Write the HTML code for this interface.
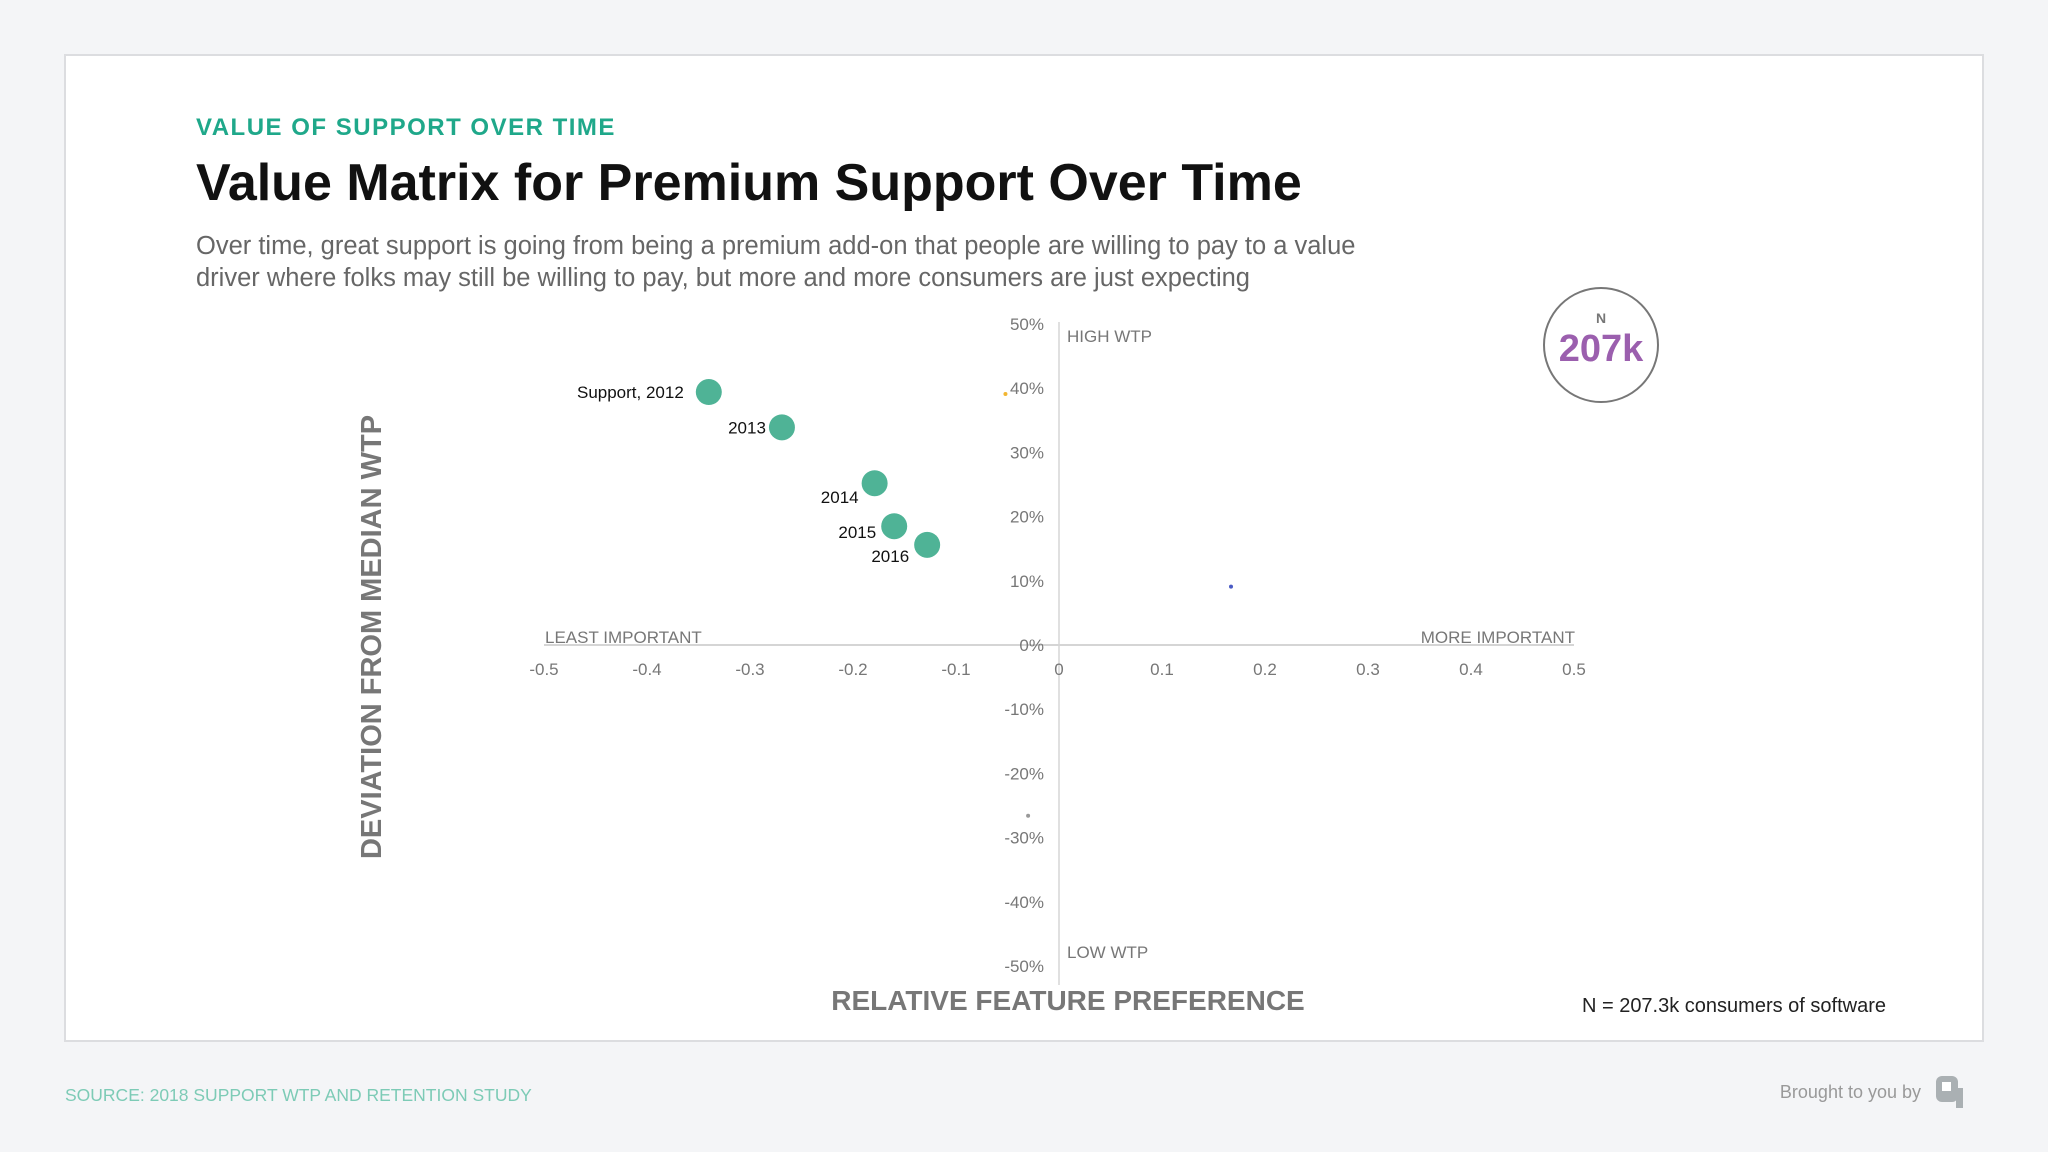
<!DOCTYPE html>
<html><head><meta charset="utf-8"><style>
html,body{margin:0;padding:0;background:#f4f5f7;width:2048px;height:1152px;overflow:hidden;font-family:"Liberation Sans","DejaVu Sans",sans-serif}
svg{display:block}
</style></head><body>
<svg width="2048" height="1152" xmlns="http://www.w3.org/2000/svg" font-family="Liberation Sans, DejaVu Sans, sans-serif">
<rect x="65" y="55" width="1918" height="986" fill="#fff" stroke="#dcdde0" stroke-width="2"/>
<text x="196" y="135" fill="#1fa88a" font-size="24" font-weight="bold" letter-spacing="1.5">VALUE OF SUPPORT OVER TIME</text>
<text x="196" y="200" fill="#111" font-size="52" font-weight="bold">Value Matrix for Premium Support Over Time</text>
<text x="196" y="254" fill="#666" font-size="25.5">Over time, great support is going from being a premium add-on that people are willing to pay to a value</text>
<text x="196" y="286" fill="#666" font-size="25.5">driver where folks may still be willing to pay, but more and more consumers are just expecting</text>
<g id="plot"></g>
<text transform="translate(381,637) rotate(-90)" text-anchor="middle" fill="#777" font-size="29" font-weight="bold">DEVIATION FROM MEDIAN WTP</text>
<text x="1068" y="1010" text-anchor="middle" fill="#777" font-size="28" font-weight="bold">RELATIVE FEATURE PREFERENCE</text>
<g>
<circle cx="1601" cy="345" r="57" fill="#fff" stroke="#777" stroke-width="2"/>
<text x="1601" y="323" text-anchor="middle" fill="#777" font-size="14" font-weight="bold">N</text>
<text x="1601" y="361" text-anchor="middle" fill="#9b5fae" font-size="38" font-weight="bold">207k</text>
</g>
<text x="1886" y="1012" text-anchor="end" fill="#222" font-size="20">N = 207.3k consumers of software</text>
<text x="65" y="1101" fill="#7dcbb6" font-size="17.5">SOURCE: 2018 SUPPORT WTP AND RETENTION STUDY</text>
<text x="1921" y="1098" text-anchor="end" fill="#999" font-size="18">Brought to you by</text>
<g>
<rect x="1936" y="1076" width="22" height="26" rx="6" fill="#aab0b3"/>
<rect x="1942" y="1082" width="9" height="9" fill="#fff"/>
<rect x="1956" y="1088" width="7" height="20" fill="#aab0b3"/>
</g>
</svg>
<script>
const xTicks=[-0.5,-0.4,-0.3,-0.2,-0.1,0,0.1,0.2,0.3,0.4,0.5];
const yTicks=[50,40,30,20,10,0,-10,-20,-30,-40,-50];
const pointLabels=["Support, 2012","2013","2014","2015","2016"];
const pointX=[-0.34,-0.269,-0.179,-0.160,-0.128];
const pointY=[39.4,33.9,25.2,18.5,15.6];
const dotX=[-0.052,0.167,-0.03];
const dotY=[39.1,9.1,-26.6];
const dotColors=["#f2b632","#4a5bc4","#999"];
const NS="http://www.w3.org/2000/svg";
const g=document.getElementById('plot');
const X=v=>1059+v*1030;
const Y=v=>645-v*6.42;
function mk(t,a,txt){const e=document.createElementNS(NS,t);for(const k in a)e.setAttribute(k,a[k]);if(txt!==undefined)e.textContent=txt;g.appendChild(e);return e;}
let e;
e=mk('line',{x1:X(-0.5),x2:X(0.5),y1:Y(0),y2:Y(0),stroke:'#d5d5d5','stroke-width':2});


e=mk('line',{x1:X(0),x2:X(0),y1:322,y2:985,stroke:'#d5d5d5','stroke-width':1.5});


xTicks.forEach(v=>{e=mk('text',{x:X(v),y:675,'text-anchor':'middle',fill:'#777','font-size':17},v===0?'0':String(v));

});
yTicks.forEach(v=>{e=mk('text',{x:1044,y:Y(v)+6,'text-anchor':'end',fill:'#777','font-size':17},v+'%');

});
[["HIGH WTP",1067,342,'start'],["LOW WTP",1067,958,'start'],["LEAST IMPORTANT",545,643,'start'],["MORE IMPORTANT",1575,643,'end']].forEach(q=>{
e=mk('text',{x:q[1],y:q[2],'text-anchor':q[3],fill:'#777','font-size':17},q[0]);

});
dotX.forEach((v,i)=>{e=mk('circle',{cx:X(v),cy:Y(dotY[i]),r:2,fill:dotColors[i]});

});
const offs=[[-25,6,'end'],[-16,6,'end'],[-16,20,'end'],[-18,12,'end'],[-18,17,'end']];
pointX.forEach((v,i)=>{
e=mk('circle',{cx:X(v),cy:Y(pointY[i]),r:13,fill:'#4fb396'});


const o=offs[i];
e=mk('text',{x:X(v)+o[0],y:Y(pointY[i])+o[1],'text-anchor':o[2],fill:'#111','font-size':17},pointLabels[i]);


});
</script>
</body></html>
